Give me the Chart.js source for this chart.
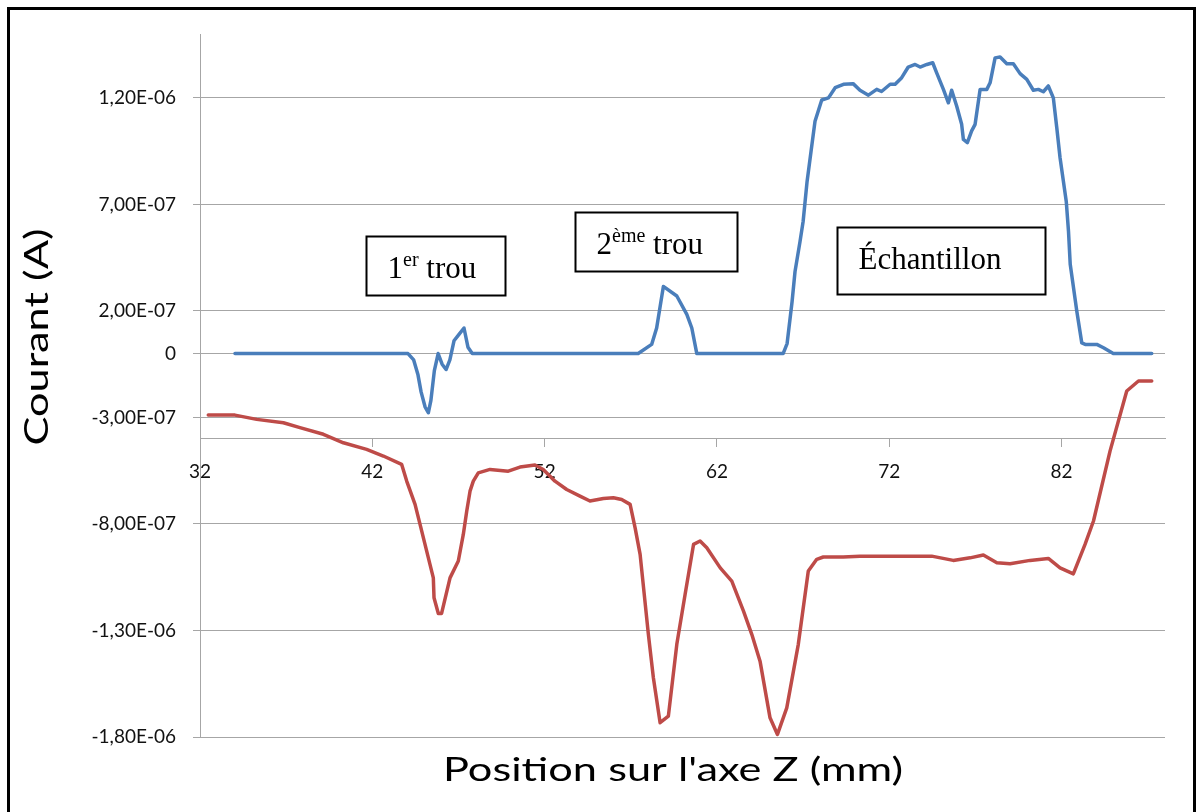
<!DOCTYPE html>
<html lang="fr">
<head>
<meta charset="utf-8">
<title>Courant en fonction de la position sur l'axe Z</title>
<script src="https://cdn.jsdelivr.net/npm/chart.js@4/dist/chart.umd.min.js"></script>
<style>
  html, body { margin: 0; padding: 0; background: #fff; overflow: hidden; }
  #cadre { position: absolute; left: 0; top: 0; width: 1198px; height: 812px; }
  #bordure { position: absolute; left: 7px; top: 7px; width: 1183px; height: 820px; border: 3px solid #000; pointer-events: none; }
</style>
</head>
<body>
<div id="cadre"><canvas id="graficoCourant" width="1198" height="812"></canvas></div>
<div id="bordure"></div>
<script>
// Courbe bleue (mesure 1)
const zBleu = [34.03, 44.07, 44.4, 44.65, 44.83, 45.06, 45.25, 45.4, 45.6, 45.82, 46.05, 46.28, 46.5, 46.74, 47.03, 47.32, 47.55, 47.8,
    57.43, 58.21, 58.5, 58.89, 59.67, 60.25, 60.54, 60.83,
    65.84, 66.07, 66.36, 66.53, 66.82, 67.0, 67.23, 67.46, 67.69, 68.08, 68.47, 68.86, 69.34, 69.9, 70.3, 70.79, 71.27, 71.55,
    72.05, 72.34, 72.72, 73.1, 73.5, 73.79, 74.18, 74.52, 74.75, 75.14, 75.43, 75.62, 75.91, 76.2, 76.3, 76.53, 76.78, 76.98,
    77.27, 77.66, 77.85, 78.14, 78.43, 78.82, 79.2, 79.59, 79.98, 80.36, 80.65, 80.94, 81.23, 81.52, 81.72, 81.91,
    82.27, 82.4, 82.5, 82.88, 83.17, 83.37, 84.04, 84.43, 85.0, 87.23];
const courantBleu = [0, 0, -0.3e-7, -1.0e-7, -1.8e-7, -2.5e-7, -2.78e-7, -2.2e-7, -0.8e-7, 0, -0.5e-7, -0.75e-7, -0.3e-7, 0.6e-7, 0.9e-7, 1.2e-7, 0.3e-7, 0,
    0, 0.43e-7, 1.2e-7, 3.15e-7, 2.7e-7, 1.84e-7, 1.2e-7, 0,
    0, 0.47e-7, 2.44e-7, 3.85e-7, 5.26e-7, 6.2e-7, 8.08e-7, 9.5e-7, 10.9e-7, 11.9e-7, 12.0e-7, 12.48e-7, 12.64e-7, 12.67e-7, 12.36e-7, 12.13e-7, 12.4e-7, 12.3e-7,
    12.64e-7, 12.64e-7, 12.95e-7, 13.45e-7, 13.57e-7, 13.45e-7, 13.57e-7, 13.65e-7, 13.18e-7, 12.4e-7, 11.77e-7, 12.36e-7, 11.62e-7, 10.76e-7, 10.05e-7, 9.9e-7, 10.45e-7, 10.76e-7,
    12.4e-7, 12.4e-7, 12.71e-7, 13.88e-7, 13.92e-7, 13.6e-7, 13.6e-7, 13.14e-7, 12.87e-7, 12.36e-7, 12.4e-7, 12.29e-7, 12.56e-7, 12.0e-7, 10.6e-7, 9.19e-7,
    7.14e-7, 5.73e-7, 4.19e-7, 2.0e-7, 0.5e-7, 0.43e-7, 0.43e-7, 0.27e-7, 0, 0];

// Courbe rouge (mesure 2)
const zRouge = [32.48, 34.03, 35.29, 36.84, 37.8, 39.16, 40.32, 41.67, 42.64, 43.7, 44.0, 44.48, 44.77, 45.54, 45.58, 45.83, 46.02,
    46.51, 46.99, 47.28, 47.48, 47.67, 47.86, 48.15, 48.83, 49.89, 50.57, 51.44, 51.92, 52.6, 53.28, 54.05, 54.63, 55.41, 55.99,
    56.47, 56.96, 57.25, 57.54, 58.02, 58.31, 58.7, 59.18, 59.67, 60.15, 60.64, 61.02, 61.41, 62.19, 62.86, 63.54, 64.02, 64.5,
    65.08, 65.51, 66.05, 66.72, 67.3, 67.79, 68.17, 69.32, 70.3, 73.79, 74.46, 75.71, 76.69, 77.46, 78.24, 79.01, 80.17, 81.23,
    81.91, 82.68, 83.36, 83.85, 84.81, 85.78, 86.46, 87.23];
const courantRouge = [-2.89e-7, -2.89e-7, -3.09e-7, -3.25e-7, -3.48e-7, -3.79e-7, -4.19e-7, -4.5e-7, -4.81e-7, -5.2e-7, -6.0e-7, -7.08e-7, -8.02e-7, -10.53e-7, -11.46e-7, -12.2e-7, -12.2e-7,
    -10.53e-7, -9.74e-7, -8.49e-7, -7.39e-7, -6.46e-7, -5.99e-7, -5.6e-7, -5.44e-7, -5.52e-7, -5.33e-7, -5.23e-7, -5.44e-7, -5.99e-7, -6.38e-7, -6.69e-7, -6.92e-7, -6.8e-7, -6.77e-7,
    -6.85e-7, -7.08e-7, -8.18e-7, -9.43e-7, -13.18e-7, -15.22e-7, -17.33e-7, -17.02e-7, -13.65e-7, -11.31e-7, -8.96e-7, -8.8e-7, -9.12e-7, -10.06e-7, -10.68e-7, -12.09e-7, -13.18e-7, -14.44e-7,
    -17.1e-7, -17.88e-7, -16.63e-7, -13.65e-7, -10.21e-7, -9.66e-7, -9.55e-7, -9.55e-7, -9.51e-7, -9.51e-7, -9.51e-7, -9.71e-7, -9.59e-7, -9.46e-7, -9.82e-7, -9.87e-7, -9.71e-7, -9.62e-7,
    -10.06e-7, -10.34e-7, -8.96e-7, -7.86e-7, -4.58e-7, -1.76e-7, -1.29e-7, -1.29e-7];

// Graduations
const ticksZ = [32, 42, 52, 62, 72, 82];
const ticksCourant = [-1.8e-6, -1.3e-6, -8e-7, -3e-7, 0, 2e-7, 7e-7, 1.2e-6];
const etiquettesCourant = ['-1,80E-06', '-1,30E-06', '-8,00E-07', '-3,00E-07', '0', '2,00E-07', '7,00E-07', '1,20E-06'];

// Zones annotées (coordonnées en unités du graphique)
const annotations = [
    { debut: '1', exposant: 'er', fin: ' trou', z0: 41.63, z1: 49.7, haut: 5.52e-7, bas: 2.75e-7 },
    { debut: '2', exposant: 'ème', fin: ' trou', z0: 53.76, z1: 63.17, haut: 6.66e-7, bas: 3.87e-7 },
    { debut: 'Échantillon', exposant: '', fin: '', z0: 68.97, z1: 81.04, haut: 5.94e-7, bas: 2.81e-7 }
];

const COR_GRADE = '#a6a6a6';
const FONTE_EIXO = 'Lato, "Open Sans", sans-serif';
const FONTE_CAIXA = '"Liberation Serif", "Times New Roman", serif';

// Texte étiré pour occuper une longueur donnée (titres des axes)
function textoEsticado(ctx, texto, cx, cy, comprimento, angulo) {
    const largura = ctx.measureText(texto).width;
    ctx.save();
    ctx.translate(cx, cy);
    ctx.rotate(angulo);
    ctx.scale(comprimento / largura, 1);
    ctx.fillText(texto, 0, 0);
    ctx.restore();
}

const pluginTextos = {
    id: 'textos',
    afterDatasetsDraw(chart) {
        const ctx = chart.ctx;
        const sx = chart.scales.x;
        const sy = chart.scales.y;
        ctx.save();
        annotations.forEach(a => {
            const x0 = Math.round(sx.getPixelForValue(a.z0)) + 0.5;
            const x1 = Math.round(sx.getPixelForValue(a.z1)) + 0.5;
            const y0 = Math.round(sy.getPixelForValue(a.haut)) + 0.5;
            const y1 = Math.round(sy.getPixelForValue(a.bas)) + 0.5;
            ctx.fillStyle = '#fff';
            ctx.fillRect(x0, y0, x1 - x0, y1 - y0);
            ctx.strokeStyle = '#000';
            ctx.lineWidth = 2;
            ctx.strokeRect(x0, y0, x1 - x0, y1 - y0);

            let x = x0 + 21;
            const base = y0 + 41;
            ctx.fillStyle = '#000';
            ctx.textBaseline = 'alphabetic';
            ctx.textAlign = 'left';
            ctx.font = '31px ' + FONTE_CAIXA;
            ctx.fillText(a.debut, x, base);
            x += ctx.measureText(a.debut).width;
            if (a.exposant) {
                ctx.font = '20px ' + FONTE_CAIXA;
                ctx.fillText(a.exposant, x, base - 12);
                x += ctx.measureText(a.exposant).width;
                ctx.font = '31px ' + FONTE_CAIXA;
                ctx.fillText(a.fin, x, base);
            }
        });
        ctx.restore();
    },
    afterDraw(chart) {
        const ctx = chart.ctx;
        ctx.save();
        ctx.fillStyle = '#000';
        ctx.font = '32px ' + FONTE_EIXO;
        ctx.textAlign = 'center';
        ctx.textBaseline = 'middle';
        textoEsticado(ctx, 'Position sur l\'axe Z (mm)', 673, 771, 460, 0);
        textoEsticado(ctx, 'Courant (A)', 38, 337, 217, -Math.PI / 2);
        ctx.restore();
    }
};

new Chart(document.getElementById('graficoCourant'), {
    type: 'line',
    data: {
        datasets: [
            {
                label: 'Bleu',
                data: zBleu.map((z, i) => ({ x: z, y: courantBleu[i] })),
                borderColor: '#4a7ebb',
                borderWidth: 3.5,
                pointRadius: 0,
                tension: 0,
                borderJoinStyle: 'round',
                borderCapStyle: 'round'
            },
            {
                label: 'Rouge',
                data: zRouge.map((z, i) => ({ x: z, y: courantRouge[i] })),
                borderColor: '#be4b48',
                borderWidth: 3.5,
                pointRadius: 0,
                tension: 0,
                borderJoinStyle: 'round',
                borderCapStyle: 'round'
            }
        ]
    },
    options: {
        responsive: false,
        animation: false,
        layout: { padding: { top: 34, right: 33, left: 0, bottom: 75 } },
        plugins: {
            legend: { display: false },
            tooltip: { enabled: false }
        },
        scales: {
            x: {
                type: 'linear',
                min: 32,
                max: 88,
                position: { y: -4e-7 },
                afterBuildTicks: scale => { scale.ticks = ticksZ.map(v => ({ value: v })); },
                afterFit: scale => { scale.height = 0; },
                grid: { drawOnChartArea: false, drawTicks: true, tickLength: 8, color: COR_GRADE },
                border: { display: true, color: COR_GRADE, width: 1 },
                ticks: {
                    autoSkip: false,
                    maxRotation: 0,
                    padding: 14,
                    color: '#111',
                    font: { family: FONTE_EIXO, size: 19 },
                    callback: v => String(v)
                }
            },
            y: {
                type: 'linear',
                min: -1.8e-6,
                max: 1.5e-6,
                afterBuildTicks: scale => { scale.ticks = ticksCourant.map(v => ({ value: v })); },
                afterFit: scale => { scale.width = 200; },
                grid: { color: COR_GRADE, tickLength: 7, lineWidth: 1 },
                border: { display: true, color: COR_GRADE, width: 1 },
                ticks: {
                    autoSkip: false,
                    padding: 17,
                    color: '#111',
                    font: { family: FONTE_EIXO, size: 19 },
                    callback: v => etiquettesCourant[ticksCourant.indexOf(v)]
                }
            }
        }
    },
    plugins: [pluginTextos]
});
</script>
</body>
</html>
